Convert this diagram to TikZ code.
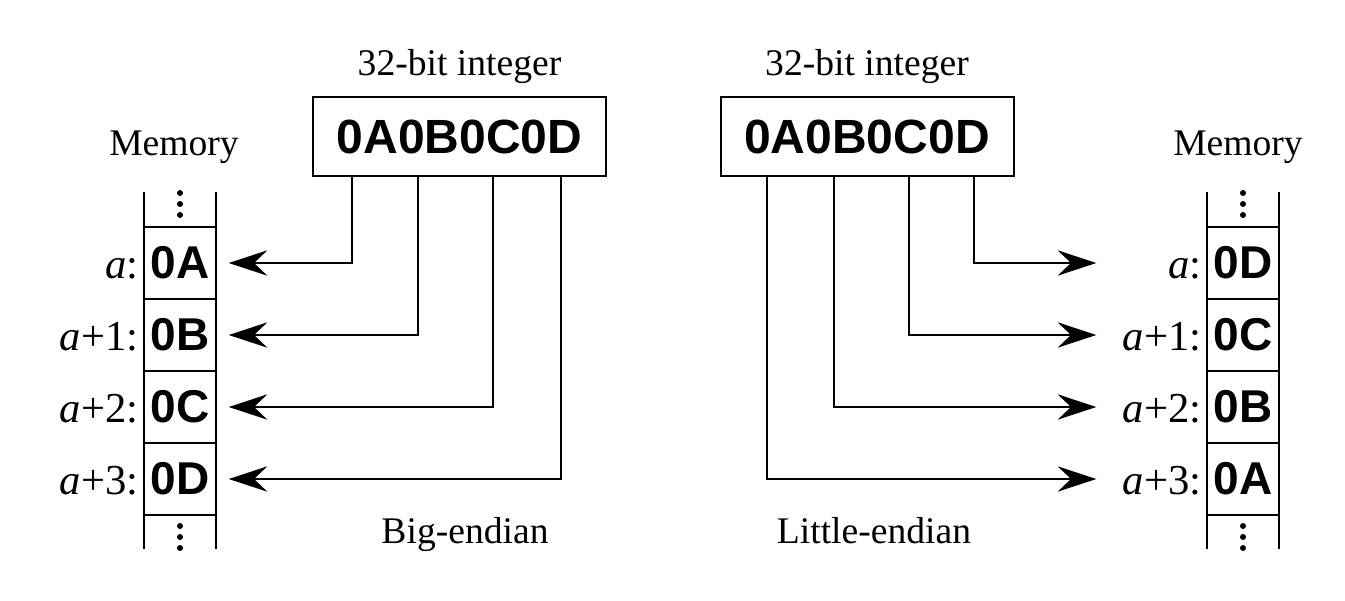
\documentclass[tikz,border=0pt]{standalone}
\usepackage{fontspec}
\setmainfont{Liberation Serif}
\newfontfamily\hexfont{Liberation Sans}
\usetikzlibrary{arrows.meta}
\begin{document}
\begin{tikzpicture}[x=0.75pt,y=-0.75pt,
  line width=1.5pt,
  title/.style={font=\fontsize{28.2}{30}\selectfont, inner sep=0pt, anchor=base},
  lab/.style={font=\fontsize{32}{34}\selectfont, inner sep=0pt, anchor=base east},
  hexbox/.style={draw, minimum width=219.75pt, minimum height=59.25pt, inner sep=0pt,
    font=\hexfont\bfseries\fontsize{36}{38}\selectfont},
  cell/.style={draw, line width=1pt, minimum width=54pt, minimum height=54pt, inner sep=0pt,
    font=\hexfont\bfseries\fontsize{34.5}{36}\selectfont},
  arr/.style={-{Stealth[length=29pt,width=19pt,inset=10pt]}, line width=1.5pt},
  dot/.style={circle, fill, inner sep=0pt, minimum size=4.5pt}
]
\useasboundingbox (0,0) rectangle (1345,600);

% ---------------- Left: big-endian ----------------
\node[title] (ltitle) at (459.5,75) {32-bit integer};
\node[hexbox] (lbox) at (459.5,136.5) {0A0B0C0D};
\node[title] (lmem) at (174,155) {Memory};
\node[title] (lend) at (465,543) {Big-endian};

\node[cell] (lc1) at (180,263) {0A};
\node[cell] (lc2) at (180,335) {0B};
\node[cell] (lc3) at (180,407) {0C};
\node[cell] (lc4) at (180,479) {0D};
\draw[line width=1pt] (144,192) -- (144,549) (216,192) -- (216,549);
\node[dot] (ld1) at (180,193) {};
\node[dot] (ld2) at (180,204) {};
\node[dot] (ld3) at (180,215) {};
\node[dot] (ld4) at (180,526) {};
\node[dot] (ld5) at (180,537) {};
\node[dot] (ld6) at (180,548) {};

\node[lab] (ll1) at ([xshift=-3pt]lc1.base west) {\textit{a}:};
\node[lab] (ll2) at ([xshift=-3pt]lc2.base west) {\textit{a}+1:};
\node[lab] (ll3) at ([xshift=-3pt]lc3.base west) {\textit{a}+2:};
\node[lab] (ll4) at ([xshift=-3pt]lc4.base west) {\textit{a}+3:};

\draw[arr, shorten >=9pt] (lbox.south -| 352,0) |- (lc1.east);
\draw[arr, shorten >=9pt] (lbox.south -| 418,0) |- (lc2.east);
\draw[arr, shorten >=9pt] (lbox.south -| 493,0) |- (lc3.east);
\draw[arr, shorten >=9pt] (lbox.south -| 561,0) |- (lc4.east);

% ---------------- Right: little-endian ----------------
\node[title] (rtitle) at (867,75) {32-bit integer};
\node[hexbox] (rbox) at (867,136.5) {0A0B0C0D};
\node[title] (rmem) at (1238,155) {Memory};
\node[title] (rend) at (874,543) {Little-endian};

\node[cell] (rc1) at (1243,263) {0D};
\node[cell] (rc2) at (1243,335) {0C};
\node[cell] (rc3) at (1243,407) {0B};
\node[cell] (rc4) at (1243,479) {0A};
\draw[line width=1pt] (1207,192) -- (1207,549) (1279,192) -- (1279,549);
\node[dot] (rd1) at (1243,193) {};
\node[dot] (rd2) at (1243,204) {};
\node[dot] (rd3) at (1243,215) {};
\node[dot] (rd4) at (1243,526) {};
\node[dot] (rd5) at (1243,537) {};
\node[dot] (rd6) at (1243,548) {};

\node[lab] (rl1) at ([xshift=-3pt]rc1.base west) {\textit{a}:};
\node[lab] (rl2) at ([xshift=-3pt]rc2.base west) {\textit{a}+1:};
\node[lab] (rl3) at ([xshift=-3pt]rc3.base west) {\textit{a}+2:};
\node[lab] (rl4) at ([xshift=-3pt]rc4.base west) {\textit{a}+3:};

\draw[arr, shorten >=82.5pt] (rbox.south -| 974,0) |- (rc1.west);
\draw[arr, shorten >=82.5pt] (rbox.south -| 909,0) |- (rc2.west);
\draw[arr, shorten >=82.5pt] (rbox.south -| 834,0) |- (rc3.west);
\draw[arr, shorten >=82.5pt] (rbox.south -| 767,0) |- (rc4.west);
\end{tikzpicture}
\end{document}
